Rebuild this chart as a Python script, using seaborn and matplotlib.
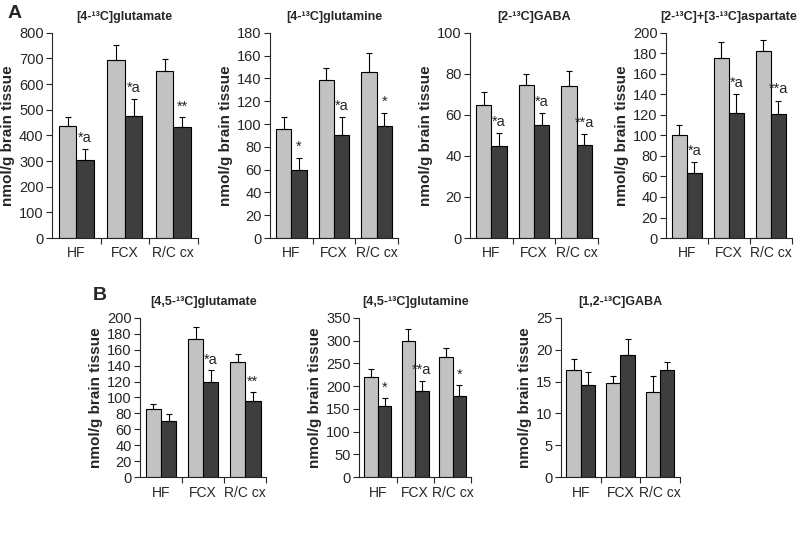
import numpy as np
import pandas as pd
import seaborn as sns
import matplotlib.pyplot as plt

regions = ["HF", "FCX", "R/C cx"]
groups = ["control", "treated"]

# panel A
glu4_ctrl = [435, 695, 650]
glu4_ctrl_err = [38, 57, 48]
glu4_trt = [305, 475, 432]
glu4_trt_err = [42, 65, 38]
glu4_marks = ["*a", "*a", "**"]

gln4_ctrl = [96, 139, 146]
gln4_ctrl_err = [10, 10, 16]
gln4_trt = [60, 90, 98]
gln4_trt_err = [10, 16, 12]
gln4_marks = ["*", "*a", "*"]

gaba2_ctrl = [65, 74.5, 74]
gaba2_ctrl_err = [6, 5.5, 7.5]
gaba2_trt = [45, 55, 45.5]
gaba2_trt_err = [6, 6, 5]
gaba2_marks = ["*a", "*a", "**a"]

asp_ctrl = [100, 175, 182]
asp_ctrl_err = [10, 16, 11]
asp_trt = [63, 122, 121]
asp_trt_err = [11, 18, 13]
asp_marks = ["*a", "*a", "**a"]

# panel B
glu45_ctrl = [86, 173, 145]
glu45_ctrl_err = [6, 15, 10]
glu45_trt = [71, 120, 95]
glu45_trt_err = [8, 14, 12]
glu45_marks = ["", "*a", "**"]

gln45_ctrl = [220, 298, 263]
gln45_ctrl_err = [17, 28, 20]
gln45_trt = [156, 190, 178]
gln45_trt_err = [18, 22, 25]
gln45_marks = ["*", "**a", "*"]

gaba12_ctrl = [16.8, 14.7, 13.4]
gaba12_ctrl_err = [1.7, 1.2, 2.5]
gaba12_trt = [14.5, 19.2, 16.8]
gaba12_trt_err = [2.0, 2.5, 1.3]
gaba12_marks = ["", "", ""]

panels = [
    ("[4-¹³C]glutamate", glu4_ctrl, glu4_ctrl_err, glu4_trt, glu4_trt_err, glu4_marks, 800, 100,
     [0.065, 0.564, 0.182, 0.376]),
    ("[4-¹³C]glutamine", gln4_ctrl, gln4_ctrl_err, gln4_trt, gln4_trt_err, gln4_marks, 180, 20,
     [0.3375, 0.564, 0.160, 0.376]),
    ("[2-¹³C]GABA", gaba2_ctrl, gaba2_ctrl_err, gaba2_trt, gaba2_trt_err, gaba2_marks, 100, 20,
     [0.5875, 0.564, 0.160, 0.376]),
    ("[2-¹³C]+[3-¹³C]aspartate", asp_ctrl, asp_ctrl_err, asp_trt, asp_trt_err, asp_marks, 200, 20,
     [0.8325, 0.564, 0.157, 0.376]),
    ("[4,5-¹³C]glutamate", glu45_ctrl, glu45_ctrl_err, glu45_trt, glu45_trt_err, glu45_marks, 200, 20,
     [0.175, 0.126, 0.158, 0.292]),
    ("[4,5-¹³C]glutamine", gln45_ctrl, gln45_ctrl_err, gln45_trt, gln45_trt_err, gln45_marks, 350, 50,
     [0.449, 0.126, 0.140, 0.292]),
    ("[1,2-¹³C]GABA", gaba12_ctrl, gaba12_ctrl_err, gaba12_trt, gaba12_trt_err, gaba12_marks, 25, 5,
     [0.701, 0.126, 0.149, 0.292]),
]

sns.set_theme(style="ticks")
plt.rcParams['font.family'] = ['Liberation Sans', 'DejaVu Sans']
plt.rcParams['axes.linewidth'] = 0.8

fig = plt.figure(figsize=(8, 5.46), dpi=100)

for title, c, ce, t, te, marks, ymax, step, rect in panels:
    ax = fig.add_axes(rect)
    df = pd.DataFrame({
        "region": regions * 2,
        "group": [groups[0]] * 3 + [groups[1]] * 3,
        "value": c + t,
    })
    sns.barplot(data=df, x="region", y="value", hue="group", order=regions,
                palette=["#c2c2c2", "#3e3e3e"], saturation=1, edgecolor="black",
                linewidth=0.8, width=0.72, errorbar=None, legend=False, ax=ax)
    # upper error bars only
    for cont, errs in zip(ax.containers, [ce, te]):
        xs = [b.get_x() + b.get_width() / 2 for b in cont]
        hs = [b.get_height() for b in cont]
        ax.errorbar(xs, hs, yerr=[np.zeros(3), errs], fmt="none", ecolor="black",
                    elinewidth=0.8, capsize=2.5, capthick=0.8)
    dark = ax.containers[1]
    for b, e, m in zip(dark, te, marks):
        if m:
            ax.text(b.get_x() + b.get_width() / 2, b.get_height() + e + 0.02 * ymax, m,
                    ha="center", va="bottom", fontsize=10.5)
    ax.set_ylim(0, ymax)
    ax.set_yticks(np.arange(0, ymax + step / 2, step))
    ax.set_xlim(-0.5, 2.5)
    ax.set_xticks([0, 1, 2])
    ax.set_xticklabels(regions)
    ax.tick_params(axis="x", length=0, labelsize=10, pad=6)
    ax.set_xticks([0.5, 1.5, 2.5], minor=True)
    ax.tick_params(axis="x", which="minor", length=4, width=0.8, direction="out")
    ax.tick_params(axis="y", length=4, width=0.8, labelsize=10.5, pad=2)
    ax.set_xlabel("")
    ax.set_ylabel("nmol/g brain tissue", fontsize=11, fontweight="bold", labelpad=3)
    ax.set_title(title, fontsize=9, fontweight="bold", pad=9)
    sns.despine(ax=ax)

fig.text(0.01, 0.99, "A", fontsize=14, fontweight="bold", va="top")
fig.text(0.116, 0.474, "B", fontsize=14, fontweight="bold", va="top")

fig.savefig("out.png", dpi=100)
